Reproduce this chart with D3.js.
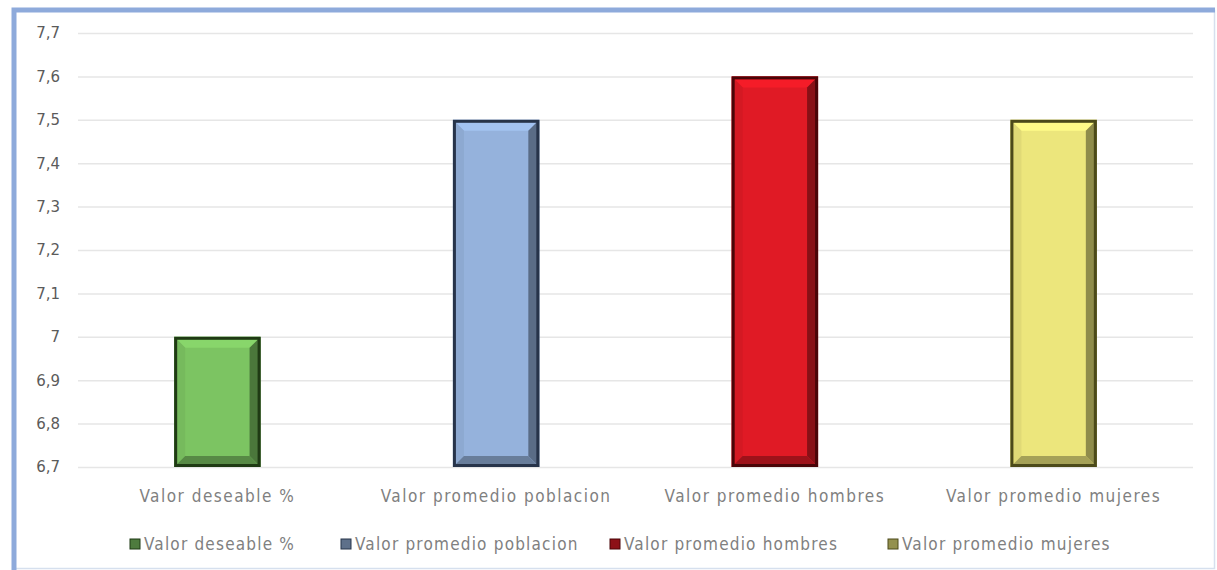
<!DOCTYPE html>
<html>
<head>
<meta charset="utf-8">
<script src="https://cdn.jsdelivr.net/npm/d3@7"></script>
<style>
  body { margin: 0; background: #fff; }
  .tick text { font-family: "DejaVu Sans", Verdana, sans-serif; }
</style>
</head>
<body>
<div id="chart"></div>
<script>
// Data
const categories = ['Valor deseable %', 'Valor promedio poblacion', 'Valor promedio hombres', 'Valor promedio mujeres']
const values = [7.0, 7.5, 7.6, 7.5]
const yTicks = [6.7, 6.8, 6.9, 7.0, 7.1, 7.2, 7.3, 7.4, 7.5, 7.6, 7.7]
const fills = ['#7cc462', '#95b2dc', '#e01a25', '#ece67c']
const darks = ['#1f3a14', '#27344a', '#4a0508', '#4c4a1a']

var width = 1217
var height = 570
var margin = { top: 33, right: 24, bottom: 103, left: 78 }
var innerW = width - margin.left - margin.right
var innerH = height - margin.top - margin.bottom

const svg = d3.select('#chart').append('svg')
  .attr('width', width)
  .attr('height', height)

// outer frame
svg.append('rect')
  .attr('x', 14.5).attr('y', 10.5)
  .attr('width', width - 17).attr('height', height - 12)
  .attr('fill', 'none').attr('stroke', '#d6e0ee').attr('stroke-width', 1.5)
svg.append('path')
  .attr('d', `M14,${height} L14,10 L${width - 2},10`)
  .attr('fill', 'none').attr('stroke', '#8eaadb').attr('stroke-width', 5)

const g = svg.append('g').attr('transform', `translate(${margin.left},${margin.top})`)

const x = d3.scaleBand().domain(categories).range([0, innerW]).paddingInner(0.69).paddingOuter(0.345)
const y = d3.scaleLinear().domain([6.7, 7.7]).range([innerH, 0])

const fmt = d => d3.format('.1f')(d).replace('.0', '').replace('.', ',')

// gridlines + y labels
const yAxis = d3.axisLeft(y).tickValues(yTicks).tickSize(-innerW).tickFormat(fmt).tickPadding(18)
g.append('g').call(yAxis)
  .call(s => s.select('.domain').remove())
  .call(s => s.selectAll('.tick line').attr('stroke', '#e6e6e6').attr('stroke-width', 1.5))
  .call(s => s.selectAll('.tick text').attr('fill', '#5b5b5b').attr('font-size', 15))

// bars with bevel
const bev = 11
const bars = g.selectAll('.bar').data(values).enter().append('g').attr('class', 'bar')
bars.each(function (d, i) {
  const b = d3.select(this)
  const x0 = x(categories[i]), x1 = x0 + x.bandwidth()
  const y0 = y(d), y1 = y(6.7)
  const base = d3.color(fills[i])
  b.append('rect').attr('x', x0).attr('y', y0).attr('width', x1 - x0).attr('height', y1 - y0).attr('fill', fills[i])
  const poly = (pts, c) => b.append('polygon').attr('points', pts.map(p => p.join(',')).join(' ')).attr('fill', c)
  poly([[x0, y0], [x1, y0], [x1 - bev, y0 + bev], [x0 + bev, y0 + bev]], base.brighter(0.25))
  poly([[x0, y0], [x0 + bev, y0 + bev], [x0 + bev, y1 - bev], [x0, y1]], base.darker(0.15))
  poly([[x1, y0], [x1, y1], [x1 - bev, y1 - bev], [x1 - bev, y0 + bev]], base.darker(1.4))
  poly([[x0, y1], [x0 + bev, y1 - bev], [x1 - bev, y1 - bev], [x1, y1]], base.darker(1.0))
  b.append('rect').attr('x', x0 + 1.5).attr('y', y0 + 1.5).attr('width', x1 - x0 - 3).attr('height', y1 - y0 - 3)
    .attr('fill', 'none').attr('stroke', darks[i]).attr('stroke-width', 3)
})

// category labels
const labelFont = '"Liberation Sans Narrow", "DejaVu Sans Condensed", sans-serif'
g.selectAll('.cat').data(categories).enter().append('text')
  .attr('x', d => x(d) + x.bandwidth() / 2)
  .attr('y', innerH + 35)
  .attr('text-anchor', 'middle')
  .attr('font-family', labelFont).attr('font-size', 17).attr('letter-spacing', 1.5)
  .attr('fill', '#808080')
  .text(d => d)

// legend
const legendX = [130, 341, 610, 888]
const legend = svg.selectAll('.leg').data(categories).enter().append('g')
  .attr('transform', (d, i) => `translate(${legendX[i]}, 544)`)
legend.append('rect').attr('x', 0).attr('y', -5).attr('width', 10).attr('height', 10)
  .attr('fill', (d, i) => d3.color(fills[i]).darker(1.3)).attr('stroke', (d, i) => darks[i])
legend.append('text').attr('x', 14).attr('y', 0).attr('dy', '0.35em')
  .attr('font-family', labelFont).attr('font-size', 17).attr('letter-spacing', 1.2)
  .attr('fill', '#808080')
  .text(d => d)
</script>
</body>
</html>
